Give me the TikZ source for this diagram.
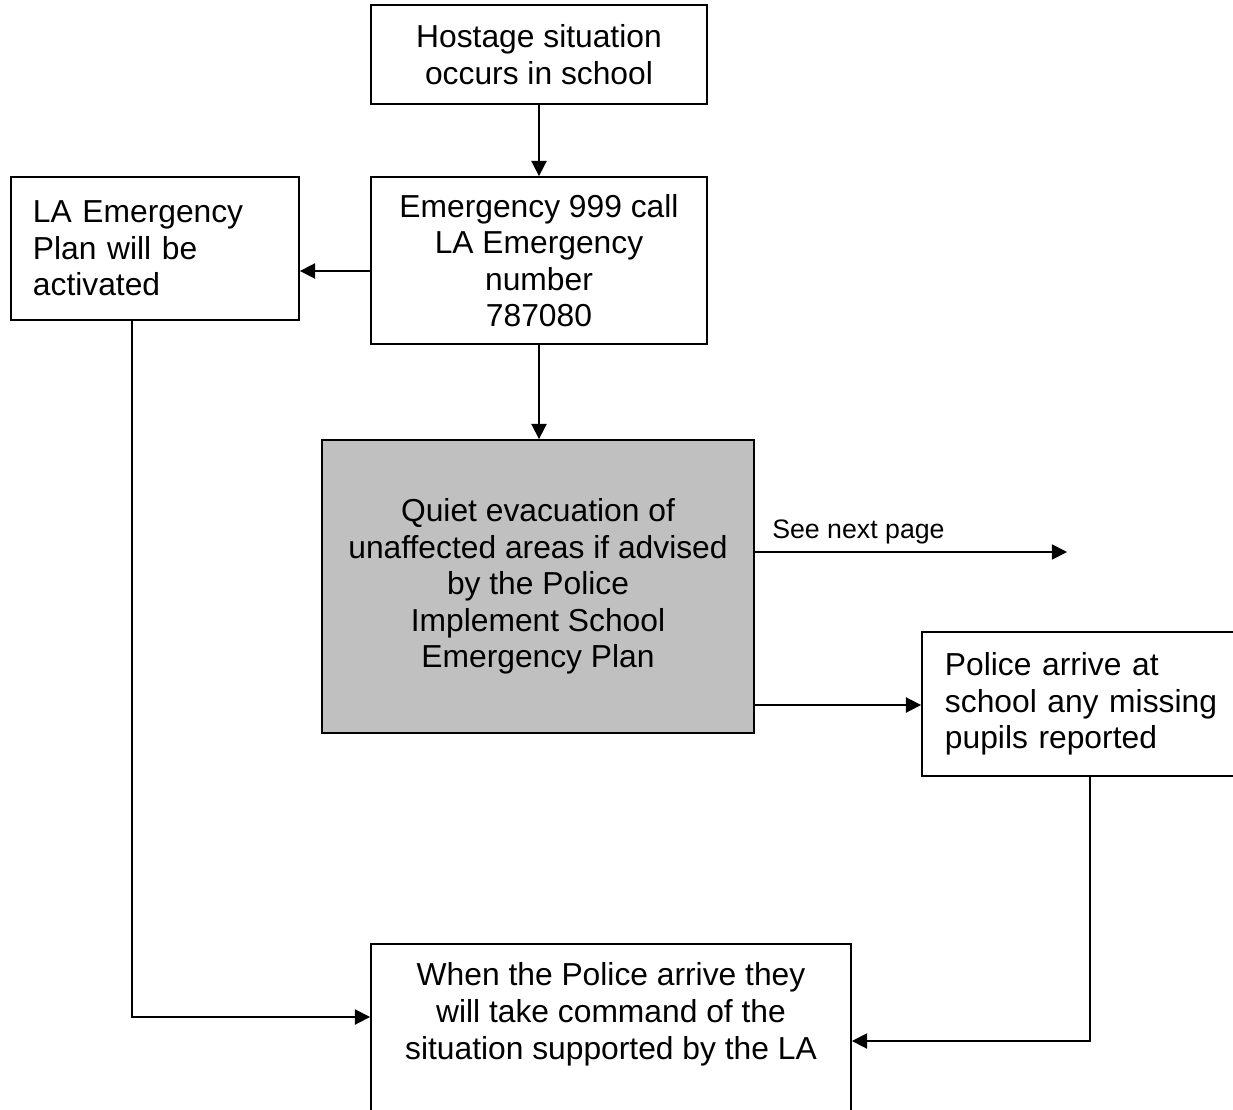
\documentclass[tikz,border=0pt]{standalone}
\usepackage{fontspec}
\setmainfont{Liberation Sans}
\usetikzlibrary{arrows.meta}
\definecolor{evacgray}{RGB}{192,192,192}
\tikzset{
  box/.style={draw, line width=1.25pt, inner sep=0pt, font=\fontsize{22.6}{26}\selectfont},
  arr/.style={line width=1.25pt, -{Triangle[length=0.38cm,width=0.38cm]}},
  small/.style={font=\fontsize{19}{22}\selectfont, inner sep=0pt}
}
\begin{document}
\begin{tikzpicture}[x=0.025cm,y=-0.025cm]
	\useasboundingbox (0,0) rectangle (1233,1109);

	% Boxes
	\node[box, minimum width=8.4cm, minimum height=2.475cm, align=center] (hostage) at (539,54.5) {Hostage situation\\occurs in school};
	\node[box, minimum width=8.4cm, minimum height=4.175cm, align=center] (emerg) at (539,260.5) {Emergency 999 call\\LA Emergency\\number\\787080};
	\node[box, text width=6.1cm, inner xsep=0.55cm, minimum height=3.575cm, align=left] (laplan) at (155,248.5) {LA Emergency\\Plan will be\\activated};
	\node[box, fill=evacgray, minimum width=10.8cm, minimum height=7.325cm, align=center] (evac) at (538,586.5) {Quiet evacuation of\\unaffected areas if advised\\by the Police\\Implement School\\Emergency Plan};
	\node[box, text width=7.05cm, inner xsep=0.575cm, minimum height=3.6cm, align=left] (police) at (1086,704) {Police arrive at\\school any missing\\pupils reported};
	\node[box, minimum width=12cm, minimum height=5.45cm, align=center] (when) at (611,1053) {When the Police arrive they\\will take command of the\\situation supported by the LA\\\strut\\\strut};

	% Label and free end
	\node[small, anchor=base west] (seenext) at (772,538) {See next page};
	\coordinate (nextpage) at (1067,552);

	% Arrows
	\draw[arr] (hostage) -- (emerg);
	\draw[arr] (emerg.west |- 0,271) -- (laplan.east |- 0,271);
	\draw[arr] (emerg.south) -- (evac.north -| emerg.south);
	\draw[arr] (evac.east |- nextpage) -- (nextpage);
	\draw[arr] (evac.east |- 0,705) -- (police.west |- 0,705);
	\draw[arr] (laplan.south -| 132,0) |- (when.west |- 0,1017);
	\draw[arr] (police.south -| 1090,0) |- (when.east |- 0,1041);
\end{tikzpicture}
\end{document}
